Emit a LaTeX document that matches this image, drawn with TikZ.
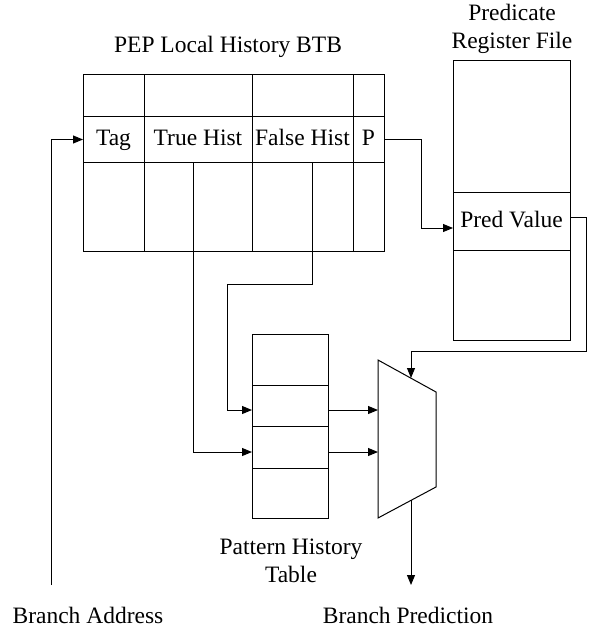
\documentclass[tikz,border=0pt]{standalone}
\usepackage{fontspec}
\setmainfont{Liberation Serif}
\usepackage{tikz}
\usetikzlibrary{
  arrows.meta,
  positioning,
  calc
}
\newcommand{\tblCell}[6]{\node[cell, minimum width={(#4-#2)*0.5pt}, minimum height={(#5-#3)*0.5pt}] (#1) at (#2,#3) {#6};}
\tikzset{
  cell/.style={
    draw,
    anchor=north west,
    inner sep=0pt,
    outer sep=0pt,
    text height=8.5pt,
    text depth=2pt
  },
  caption/.style={
    align=center,
    inner sep=1pt
  }
}

\begin{document}
\begin{tikzpicture}[
    x=0.5pt, y=-0.5pt,
    >={Triangle[length=5pt,width=4pt]},
    line width=0.5pt,
    font=\fontsize{11.75}{14}\selectfont
  ]
  \useasboundingbox (0,0) rectangle (592,626);

  % BTB
  \node[caption] (btbtitle) at (228,47) {PEP Local History BTB};
  \foreach \xa/\xb [count=\i] in {83/144,144/252,252/353,353/384}{
    \tblCell{btbtop\i}{\xa}{75}{\xb}{117}{}
    \tblCell{btbbot\i}{\xa}{162}{\xb}{251}{}
  }
  \tblCell{tag}{83}{117}{144}{162}{Tag}
  \tblCell{thist}{144}{117}{252}{162}{True Hist}
  \tblCell{fhist}{252}{117}{353}{162}{False Hist}
  \tblCell{pbit}{353}{117}{384}{162}{P}

  % predicate register file
  \node[caption] (prftitle) at (512,29) {Predicate\\Register File};
  \tblCell{prf1}{453}{61}{570}{192}{}
  \tblCell{predval}{453}{192}{570}{250}{Pred Value}
  \tblCell{prf3}{453}{250}{570}{340}{}

  % pattern history table
  \tblCell{pht1}{252}{334}{328}{385}{}
  \tblCell{pht2}{252}{385}{328}{426}{}
  \tblCell{pht3}{252}{426}{328}{468}{}
  \tblCell{pht4}{252}{468}{328}{518}{}
  \node[caption] (phttitle) at (291,561) {Pattern History\\Table};

  % mux
  \coordinate (muxtl) at (378,360);
  \coordinate (muxtr) at (436,392);
  \coordinate (muxbr) at (436,487);
  \coordinate (muxbl) at (378,518);
  \coordinate (muxin1) at (378,410);
  \coordinate (muxin2) at (378,452);
  \coordinate (muxsel) at (411,378);
  \coordinate (muxout) at (411,500);
  \draw (muxtl) -- (muxtr) -- (muxbr) -- (muxbl) -- cycle;

  \node[caption] (baddr) at (88,615) {Branch Address};
  \node[caption] (bpred) at (408,615) {Branch Prediction};
  \coordinate (bastart) at (51,585);
  \coordinate (predend) at (411,585);

  \draw[->] (bastart) |- (tag.west);
  \draw[->] (pbit.east) -- ++(37,0) |- ([yshift=-3.5pt]predval.west);
  \draw[->] ([yshift=2pt]predval.east) -- ++(16,0) |- ([yshift=13.5pt]muxsel) -- (muxsel);
  \draw[->] ([xshift=-2.5pt]thist.south) |- (pht3.west |- muxin2);
  \draw[->] ([xshift=4.75pt]fhist.south) |- (227,284) |- (pht2.west |- muxin1);
  \draw[->] (pht2.east |- muxin1) -- (muxin1);
  \draw[->] (pht3.east |- muxin2) -- (muxin2);
  \draw[->] (muxout) -- (predend);
\end{tikzpicture}
\end{document}
